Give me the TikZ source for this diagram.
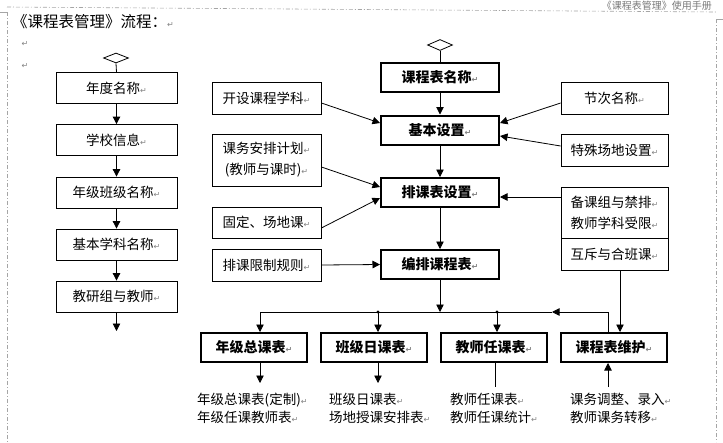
\documentclass[tikz,border=0pt]{standalone}
\usepackage{fontspec}
\setmainfont{Noto Sans CJK SC}
\newfontfamily\markfont{DejaVu Sans}
\usetikzlibrary{arrows.meta, shapes.geometric, calc}
\definecolor{markgray}{RGB}{130,130,130}
\definecolor{framegray}{RGB}{165,165,165}
\definecolor{headgray}{RGB}{120,120,120}
\newcommand{\pmark}{{\markfont\fontsize{8}{8}\selectfont\textcolor{markgray}{↵}}}

\begin{document}
\begin{tikzpicture}[x=1pt, y=-1pt,
  box/.style={draw, line width=0.8pt, minimum width=121pt, minimum height=31pt, inner sep=0pt, font=\fontsize{13.5}{16}\selectfont},
  mainbox/.style={draw, line width=2pt, minimum width=118pt, minimum height=29pt, inner sep=0pt, font=\fontsize{14}{16}\selectfont\bfseries},
  inbox/.style={draw, line width=0.8pt, minimum width=109pt, minimum height=32pt, inner sep=0pt, align=center, font=\fontsize{13.5}{21}\selectfont},
  outbox/.style={mainbox, minimum width=106pt},
  startmark/.style={diamond, draw, line width=0.8pt, minimum width=25pt, minimum height=10pt, inner sep=0pt},
  note/.style={anchor=west, align=left, inner sep=0pt, font=\fontsize{13.5}{18}\selectfont},
  flow/.style={line width=0.8pt, -{Triangle[length=7.5pt,width=7.5pt]}},
  link/.style={line width=0.8pt},
  frame/.style={framegray, line width=0.6pt, dash pattern=on 4pt off 2pt on 1pt off 2pt},
  tick/.style={framegray, line width=0.6pt}]
  \useasboundingbox (0,0) rectangle (723,442);
  \clip (0,0) rectangle (723,442);

  % page frame
  \node[anchor=base east, text=headgray, font=\fontsize{10}{12}\selectfont, inner sep=0pt] (header) at (712,9) {《课程表管理》使用手册};
  \draw[frame] (7,7) -- (716,12);
  \draw[tick] (0,12) -- (7,12);
  \draw[frame] (7,12) -- (7,442);
  \draw[tick] (716,19) -- (723,19);
  \draw[frame] (716,19) -- (716,442);

  % title
  \node[anchor=west, inner sep=0pt, font=\fontsize{15.5}{17}\selectfont] (title) at (12,22) {《课程表管理》流程：\pmark};
  \node[inner sep=0pt] (para1) at (25,44) {\pmark};
  \node[inner sep=0pt] (para2) at (25,66) {\pmark};

  % left column
  \node[startmark] (startL) at (116,58) {};
  \node[box] (year) at (116.5,88) {年度名称\pmark};
  \node[box] (school) at (116.5,140) {学校信息\pmark};
  \node[box] (classes) at (116.5,192.5) {年级班级名称\pmark};
  \node[box] (subjects) at (116.5,244.5) {基本学科名称\pmark};
  \node[box] (teachers) at (116.5,296.5) {教研组与教师\pmark};
  \coordinate (endL) at (116.5,331);

  \draw[link] (startL.south) -- (year.north);
  \draw[flow] (year) -- (school);
  \draw[flow] (school) -- (classes);
  \draw[flow] (classes) -- (subjects);
  \draw[flow] (subjects) -- (teachers);
  \draw[flow] (teachers) -- (endL);

  % main column
  \node[startmark, minimum height=11pt] (startR) at (440,45) {};
  \node[mainbox] (tname) at (440,77.5) {课程表名称\pmark};
  \node[mainbox] (basic) at (440,130) {基本设置\pmark};
  \node[mainbox] (setup) at (440,192.5) {排课表设置\pmark};
  \node[mainbox] (arrange) at (440,264.5) {编排课程表\pmark};

  \draw[link] (startR.south) -- (tname.north);
  \draw[flow] (tname) -- (basic);
  \draw[flow] (basic) -- (setup);
  \draw[flow] (setup) -- (arrange);

  % inputs on the left
  \node[inbox] (subjOpen) at (266.5,98) {开设课程学科\pmark};
  \node[inbox, minimum height=52pt] (plan) at (266.5,160) {课务安排计划\pmark\\(教师与课时)\pmark};
  \node[inbox, minimum height=31pt] (fixed) at (266.5,222.5) {固定、场地课\pmark};
  \node[inbox] (rules) at (266.5,265) {排课限制规则\pmark};

  \draw[flow] ($(subjOpen.east)+(0,5)$) -- ($(basic.west)+(0,-7)$);
  \draw[flow] ($(plan.east)+(0,7)$) -- ($(setup.west)+(0,-5.5)$);
  \draw[flow] ($(fixed.east)+(0,5.5)$) -- ($(setup.west)+(0,5.5)$);
  \draw[flow] (rules.east) -- (arrange.west);

  % inputs on the right
  \node[inbox, minimum width=107pt] (periods) at (614.5,98) {节次名称\pmark};
  \node[inbox, minimum width=107pt] (rooms) at (614.5,150) {特殊场地设置\pmark};
  \node[inbox, minimum width=107pt, minimum height=51pt] (groups) at (614.5,212.5) {备课组与禁排\pmark\\教师学科受限\pmark};
  \node[inbox, minimum width=107pt] (mutex) at (614.5,254) {互斥与合班课\pmark};

  \draw[flow] ($(periods.west)+(0,5)$) -- ($(basic.east)+(0,-7)$);
  \draw[flow] ($(rooms.west)+(0,-4)$) -- ($(basic.east)+(0,6)$);
  \draw[flow] ($(groups.west)+(0,-15.5)$) -- ($(setup.east)+(0,4.5)$);

  % outputs
  \node[outbox] (grade) at (254,347.5) {年级总课表\pmark};
  \node[outbox] (daily) at (374,347.5) {班级日课表\pmark};
  \node[outbox] (tload) at (494,347.5) {教师任课表\pmark};
  \node[outbox] (maint) at (614,347.5) {课程表维护\pmark};

  \coordinate (bus) at (440,312);
  \coordinate (busL) at (260,312);
  \coordinate (busM) at (552,312);
  \coordinate (tapA) at (378,312);
  \coordinate (tapB) at (497,312);
  \fill (tapA) circle (1.6pt);
  \fill (tapB) circle (1.6pt);

  \draw[flow] (arrange.south) -- (bus);
  \draw[flow] ($(maint.north)+(-6,0)$) |- (busM);
  \draw[link] (busM) -- (busL);
  \draw[flow] (busL) -- ($(grade.north)+(6,0)$);
  \draw[flow] (tapA) -- ($(daily.north)+(4,0)$);
  \draw[flow] (tapB) -- ($(tload.north)+(3,0)$);
  \draw[flow] ($(mutex.south)+(5.5,0)$) -- ($(maint.north)+(6,0)$);

  % reports
  \node[note] (gradeNote) at (197,408) {年级总课表(定制)\pmark\\年级任课教师表\pmark};
  \node[note] (dailyNote) at (329,408) {班级日课表\pmark\\场地授课安排表\pmark};
  \node[note] (tloadNote) at (450,408) {教师任课表\pmark\\教师任课统计\pmark};
  \node[note] (maintNote) at (570,408) {课务调整、录入\pmark\\教师课务转移\pmark};

  \coordinate (gradeEnd) at (260,383);
  \coordinate (dailyEnd) at (378,383);
  \coordinate (tloadEnd) at (495,387);
  \coordinate (maintIn) at (608,387);
  \draw[flow] ($(grade.south)+(6,0)$) -- (gradeEnd);
  \draw[flow] ($(daily.south)+(4,0)$) -- (dailyEnd);
  \draw[link] ($(tload.south)+(1,0)$) -- (tloadEnd);
  \draw[flow] (maintIn) -- ($(maint.south)+(-6,0)$);
\end{tikzpicture}
\end{document}
